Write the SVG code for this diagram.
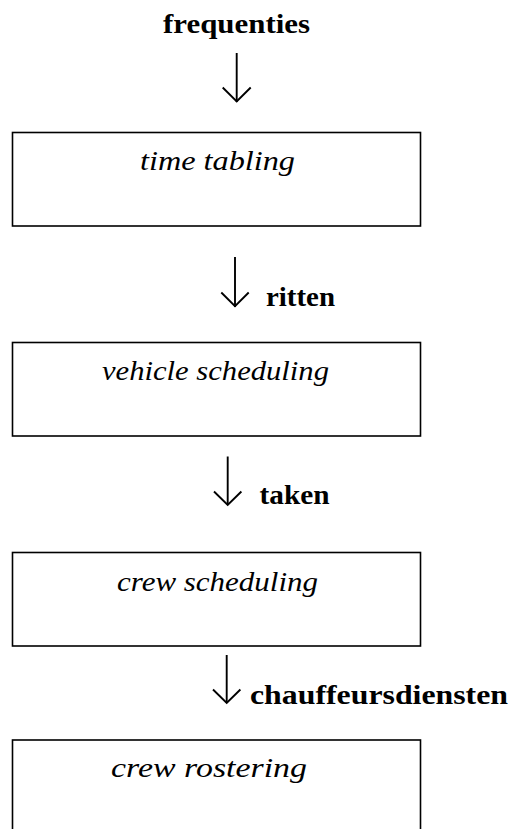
<svg xmlns="http://www.w3.org/2000/svg" width="510" height="829" viewBox="0 0 510 829">
  <style>
    .box { fill: #ffffff; stroke: #000000; stroke-width: 1.6; }
    .node-label { font-family: "Liberation Serif", "Times New Roman", serif; font-style: italic; font-size: 28px; fill: #000000; }
    .flow-label { font-family: "Liberation Serif", "Times New Roman", serif; font-weight: bold; font-size: 28px; fill: #000000; }
    .arrow { fill: none; stroke: #000000; stroke-width: 1.9; stroke-linecap: butt; stroke-linejoin: miter; }
  </style>
  <rect x="0" y="0" width="510" height="829" fill="#ffffff"/>

  <g id="input-frequenties">
    <text class="flow-label" x="163" y="33" textLength="147" lengthAdjust="spacingAndGlyphs">frequenties</text>
  </g>

  <g id="node-time-tabling">
    <rect class="box" x="12.5" y="132.5" width="408" height="93.5"/>
    <text class="node-label" x="140" y="170" textLength="155" lengthAdjust="spacingAndGlyphs">time tabling</text>
  </g>

  <g id="node-vehicle-scheduling">
    <rect class="box" x="12.5" y="342.5" width="408" height="93.5"/>
    <text class="node-label" x="102" y="380" textLength="227" lengthAdjust="spacingAndGlyphs">vehicle scheduling</text>
  </g>

  <g id="node-crew-scheduling">
    <rect class="box" x="12.5" y="552.5" width="408" height="93.5"/>
    <text class="node-label" x="117" y="591" textLength="201" lengthAdjust="spacingAndGlyphs">crew scheduling</text>
  </g>

  <g id="node-crew-rostering">
    <rect class="box" x="12.5" y="740" width="408" height="93.5"/>
    <text class="node-label" x="111" y="777" textLength="196" lengthAdjust="spacingAndGlyphs">crew rostering</text>
  </g>

  <g id="connectors">
    <g id="arrow-1">
      <path class="arrow" d="M236.7 53 V102"/>
      <path class="arrow" d="M222.7 87.5 L236.7 101.5 L250.7 87.5"/>
    </g>
    <g id="arrow-2">
      <path class="arrow" d="M235 257 V307"/>
      <path class="arrow" d="M221.3 292.5 L235 306.2 L248.7 292.5"/>
      <text class="flow-label" x="266" y="306" textLength="69" lengthAdjust="spacingAndGlyphs">ritten</text>
    </g>
    <g id="arrow-3">
      <path class="arrow" d="M227.7 456.5 V505"/>
      <path class="arrow" d="M214 491.5 L227.7 505 L241.4 491.5"/>
      <text class="flow-label" x="259.5" y="504" textLength="70" lengthAdjust="spacingAndGlyphs">taken</text>
    </g>
    <g id="arrow-4">
      <path class="arrow" d="M226.7 655 V703"/>
      <path class="arrow" d="M213 689.5 L226.7 703 L240.4 689.5"/>
      <text class="flow-label" x="250" y="703.5" textLength="258" lengthAdjust="spacingAndGlyphs">chauffeursdiensten</text>
    </g>
  </g>
</svg>
